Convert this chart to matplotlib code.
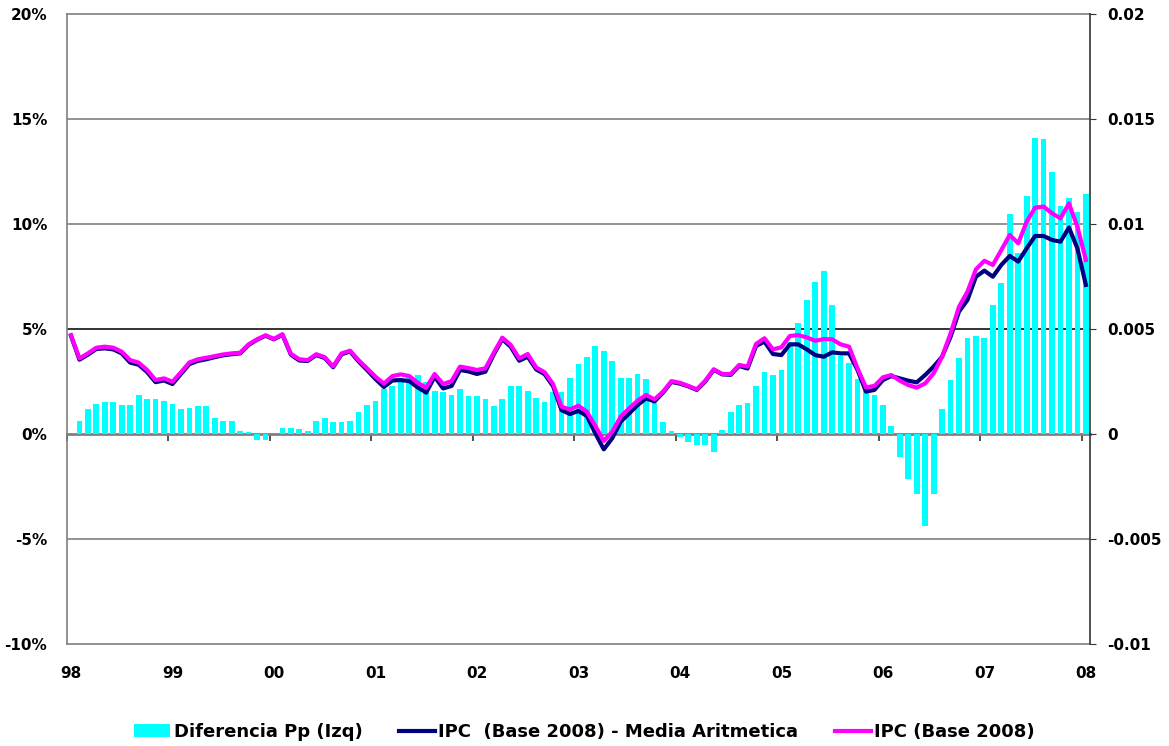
import matplotlib
matplotlib.use("Agg")
import numpy as np
from matplotlib import pyplot as plt
from matplotlib.patches import Patch
from matplotlib.lines import Line2D

plt.rcParams['font.family'] = ['DejaVu Sans']
plt.rcParams['font.weight'] = 'bold'
plt.rcParams['axes.unicode_minus'] = False

years = ['98', '99', '00', '01', '02', '03', '04', '05', '06', '07', '08']

# monthly, Jan 1998 .. Jan 2008 (percent)
diferencia = [
    0.0, 0.62, 1.19, 1.43, 1.52, 1.52, 1.38, 1.38, 1.86, 1.67, 1.67, 1.57,
    1.43, 1.19, 1.24, 1.33, 1.33, 0.76, 0.62, 0.62, 0.14, 0.10, -0.27, -0.27,
    0.0, 0.29, 0.29, 0.24, 0.14, 0.62, 0.76, 0.57, 0.57, 0.62, 1.05, 1.38,
    1.57, 2.14, 2.29, 2.57, 2.71, 2.81, 2.48, 2.05, 2.00, 1.86, 2.14, 1.81,
    1.81, 1.67, 1.33, 1.67, 2.29, 2.29, 2.05, 1.71, 1.52, 2.00, 2.00, 2.67,
    3.33, 3.67, 4.19, 3.95, 3.48, 2.67, 2.67, 2.86, 2.62, 1.48, 0.57, 0.14,
    -0.13, -0.40, -0.50, -0.50, -0.87, 0.20, 1.06, 1.40, 1.50, 2.30, 2.97, 2.83,
    3.06, 4.40, 5.30, 6.38, 7.24, 7.76, 6.14, 3.70, 3.38, 2.60, 2.10, 1.86,
    1.40, 0.36, -1.10, -2.14, -2.87, -4.40, -2.87, 1.18, 2.57, 3.62, 4.57, 4.67,
    4.57, 6.14, 7.19, 10.48, 8.62, 11.33, 14.10, 14.05, 12.48, 10.86, 11.24, 10.57,
    11.43,
]

ipc_media = [
    4.68, 3.54, 3.78, 4.05, 4.08, 4.03, 3.84, 3.40, 3.30, 2.95, 2.47, 2.55,
    2.38, 2.86, 3.33, 3.48, 3.56, 3.66, 3.75, 3.80, 3.84, 4.24, 4.49, 4.68,
    4.51, 4.73, 3.78, 3.50, 3.48, 3.76, 3.62, 3.18, 3.80, 3.93, 3.46, 3.05,
    2.62, 2.24, 2.55, 2.57, 2.52, 2.22, 1.97, 2.73, 2.17, 2.29, 3.05, 2.98,
    2.86, 2.97, 3.80, 4.52, 4.15, 3.49, 3.68, 3.08, 2.85, 2.28, 1.14, 0.95,
    1.10, 0.86, 0.03, -0.73, -0.20, 0.59, 0.98, 1.38, 1.70, 1.55, 1.97, 2.48,
    2.40, 2.27, 2.10, 2.50, 3.06, 2.84, 2.82, 3.24, 3.12, 4.19, 4.40, 3.81,
    3.76, 4.27, 4.27, 4.03, 3.76, 3.68, 3.89, 3.84, 3.84, 3.05, 2.02, 2.10,
    2.57, 2.76, 2.65, 2.54, 2.46, 2.81, 3.21, 3.68, 4.63, 5.83, 6.38, 7.49,
    7.78, 7.49, 8.05, 8.48, 8.21, 8.84, 9.43, 9.43, 9.24, 9.16, 9.83, 8.84,
    7.10,
]

ipc = [
    4.71, 3.60, 3.84, 4.11, 4.16, 4.11, 3.92, 3.52, 3.40, 3.05, 2.57, 2.65,
    2.49, 2.94, 3.41, 3.56, 3.63, 3.71, 3.79, 3.84, 3.87, 4.27, 4.51, 4.70,
    4.53, 4.75, 3.82, 3.56, 3.52, 3.80, 3.66, 3.22, 3.84, 3.97, 3.52, 3.13,
    2.73, 2.40, 2.76, 2.84, 2.76, 2.44, 2.20, 2.86, 2.38, 2.52, 3.21, 3.14,
    3.05, 3.13, 3.87, 4.59, 4.24, 3.60, 3.81, 3.17, 2.94, 2.38, 1.30, 1.17,
    1.35, 1.06, 0.38, -0.33, 0.11, 0.83, 1.22, 1.59, 1.86, 1.65, 2.02, 2.52,
    2.44, 2.29, 2.13, 2.54, 3.08, 2.86, 2.86, 3.29, 3.21, 4.29, 4.56, 4.03,
    4.13, 4.67, 4.71, 4.60, 4.44, 4.52, 4.51, 4.27, 4.16, 3.13, 2.22, 2.29,
    2.70, 2.81, 2.54, 2.33, 2.21, 2.41, 2.89, 3.68, 4.79, 6.06, 6.78, 7.84,
    8.25, 8.05, 8.76, 9.48, 9.08, 10.11, 10.78, 10.83, 10.51, 10.27, 10.98, 9.87,
    8.29,
]

left_ticks = [-10, -5, 0, 5, 10, 15, 20]
right_labels = ['-0.01', '-0.005', '0', '0.005', '0.01', '0.015', '0.02']

x = np.arange(len(ipc))

fig = plt.figure(figsize=(11.69, 7.46), dpi=100)
ax = fig.add_axes([0.0571, 0.1367, 0.8754, 0.8445])
ax.set_xlim(-0.5, len(ipc) - 0.5)
ax.set_ylim(-10, 20)

# horizontal gridlines (5% line is darker in the original)
for v in [-5, 10, 15]:
    ax.axhline(v, color='#808080', lw=1.2, zorder=1)
ax.axhline(5, color='#111111', lw=1.2, zorder=1)

ax.bar(x, diferencia, width=0.68, color='#00FFFF', zorder=2)
ax.plot(x, ipc_media, color='#000080', lw=3.0, zorder=3, solid_joinstyle='round')
ax.plot(x, ipc, color='#FF00FF', lw=3.0, zorder=4, solid_joinstyle='round')

for s in ['left', 'top', 'bottom']:
    ax.spines[s].set_color('#808080')
    ax.spines[s].set_linewidth(1.2)
ax.spines['right'].set_visible(False)

ax.set_yticks(left_ticks, labels=[f'{v}%' for v in left_ticks])
ax.tick_params(axis='y', length=0, pad=14, labelsize=11)
ax.set_xticks(np.arange(0, len(ipc), 12), labels=years)
ax.tick_params(axis='x', length=0, pad=16, labelsize=11)

# category axis crossing at zero, tick marks between years
zero_pos = (0 - (-10)) / 30
sec = ax.secondary_xaxis(zero_pos)
sec.set_xticks(np.arange(-0.5, len(ipc), 12))
sec.set_xticklabels([])
sec.tick_params(length=5, direction='out', color='#333333', width=1.2)
sec.spines['bottom'].set_color('#808080')
sec.spines['bottom'].set_linewidth(2)

ax2 = ax.twinx()
ax2.set_ylim(-0.01, 0.02)
ax2.set_yticks(np.linspace(-0.01, 0.02, 7), labels=right_labels)
ax2.tick_params(axis='y', length=4, direction='out', pad=8, labelsize=11, color='#333333')
for s in ['left', 'top', 'bottom']:
    ax2.spines[s].set_visible(False)
ax2.spines['right'].set_color('#333333')
ax2.spines['right'].set_linewidth(1.2)

handles = [
    Patch(facecolor='#00FFFF', edgecolor='none'),
    Line2D([], [], color='#000080', lw=3),
    Line2D([], [], color='#FF00FF', lw=3),
]
labels = ['Diferencia Pp (Izq)', 'IPC  (Base 2008) - Media Aritmetica', 'IPC (Base 2008)']
fig.legend(handles, labels, loc='center', bbox_to_anchor=(0.5, 14 / 746), ncol=3,
           frameon=False, fontsize=13, handlelength=2.0, handletextpad=0.2,
           columnspacing=2.0)

fig.savefig('out.png', dpi=100)
